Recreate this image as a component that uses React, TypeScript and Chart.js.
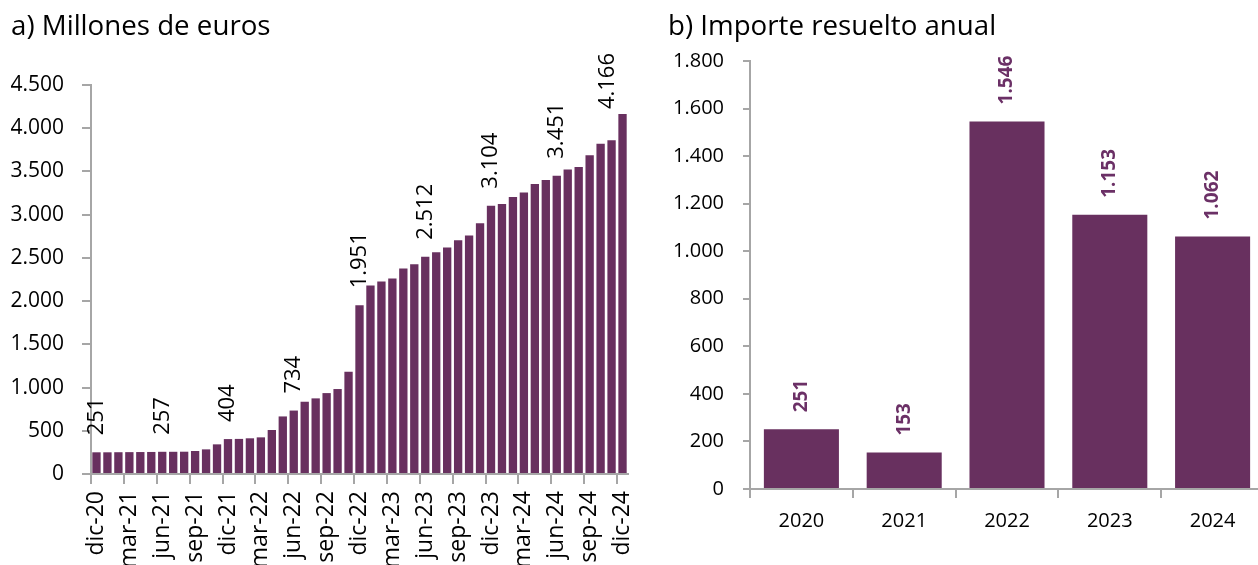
import React, { useEffect, useRef } from 'react';
import { Chart, registerables } from 'chart.js';

Chart.register(...registerables);

// ---- Data ----
const monthLabels = [
  'dic-20', 'ene-21', 'feb-21', 'mar-21', 'abr-21', 'may-21', 'jun-21', 'jul-21', 'ago-21', 'sep-21', 'oct-21', 'nov-21',
  'dic-21', 'ene-22', 'feb-22', 'mar-22', 'abr-22', 'may-22', 'jun-22', 'jul-22', 'ago-22', 'sep-22', 'oct-22', 'nov-22',
  'dic-22', 'ene-23', 'feb-23', 'mar-23', 'abr-23', 'may-23', 'jun-23', 'jul-23', 'ago-23', 'sep-23', 'oct-23', 'nov-23',
  'dic-23', 'ene-24', 'feb-24', 'mar-24', 'abr-24', 'may-24', 'jun-24', 'jul-24', 'ago-24', 'sep-24', 'oct-24', 'nov-24',
  'dic-24',
];
const monthValues = [
  251, 251, 252, 253, 254, 255, 257, 257, 258, 266, 285, 343,
  404, 406, 413, 424, 509, 666, 734, 836, 875, 936, 983, 1183,
  1951, 2181, 2227, 2262, 2377, 2427, 2512, 2566, 2620, 2705, 2759, 2901,
  3104, 3125, 3206, 3256, 3356, 3402, 3451, 3522, 3552, 3687, 3822, 3861,
  4166,
];
// months whose value is written above the bar
const monthLabelIdx = [0, 6, 12, 18, 24, 30, 36, 42, 48];

const yearLabels = ['2020', '2021', '2022', '2023', '2024'];
const yearValues = [251, 153, 1546, 1153, 1062];

const leftTitle = 'a) Millones de euros';
const rightTitle = 'b) Importe resuelto anual';

// ---- Style ----
const BAR = '#68305F';
const LABEL_PURPLE = '#6B3066';
const AXIS = '#A6A6A6';
const FONT = "'Open Sans', 'Noto Sans', sans-serif";

function fmt(n: number): string {
  return String(Math.round(n)).replace(/\B(?=(\d{3})+(?!\d))/g, '.');
}

// rotated value labels above bars, kept inside the plot area
const rotatedLabels = {
  id: 'rotLabels',
  afterDatasetsDraw(chart: any, _args: any, opts: any) {
    const { ctx, chartArea } = chart;
    const meta = chart.getDatasetMeta(0);
    const values = chart.data.datasets[0].data as number[];
    ctx.save();
    ctx.font = opts.font;
    ctx.fillStyle = opts.color;
    ctx.textAlign = 'left';
    ctx.textBaseline = 'middle';
    for (const i of opts.indices as number[]) {
      const el = meta.data[i];
      if (!el) continue;
      const text = fmt(values[i]);
      const w = ctx.measureText(text).width;
      let bottom = el.y - opts.gap;
      if (bottom - w < opts.minTop) bottom = opts.minTop + w;
      const x = Math.min(el.x, chartArea.right - opts.edge);
      ctx.save();
      ctx.translate(x, bottom);
      ctx.rotate(-Math.PI / 2);
      ctx.fillText(text, 0, 0);
      ctx.restore();
    }
    ctx.restore();
  },
};

function leftConfig(): any {
  return {
    type: 'bar',
    data: {
      labels: monthLabels,
      datasets: [
        {
          data: monthValues,
          backgroundColor: BAR,
          borderWidth: 0,
          barPercentage: 0.76,
          categoryPercentage: 1,
        },
      ],
    },
    options: {
      animation: false,
      responsive: false,
      layout: { padding: { left: 11, right: 12, top: 0, bottom: 0 } },
      plugins: {
        legend: { display: false },
        tooltip: { enabled: false },
        title: {
          display: true,
          text: leftTitle,
          align: 'start',
          color: '#000',
          font: { family: FONT, size: 27.7, weight: 'normal' },
          padding: { top: 10, bottom: 41.8 },
        },
        rotLabels: { indices: monthLabelIdx, font: `22px ${FONT}`, color: '#000', gap: 17, minTop: 53, edge: 20 },
      },
      scales: {
        x: {
          grid: {
            offset: true,
            drawOnChartArea: false,
            drawTicks: true,
            tickLength: 10,
            lineWidth: 2,
            color: (c: any) => (c.index % 3 === 0 ? AXIS : 'rgba(0,0,0,0)'),
          },
          border: { color: AXIS, width: 2 },
          ticks: {
            autoSkip: false,
            minRotation: 90,
            maxRotation: 90,
            padding: 7,
            color: '#000',
            font: { family: FONT, size: 23 },
            callback: (_v: any, i: number) => (i % 3 === 0 ? monthLabels[i] : ''),
          },
          afterFit: (s: any) => {
            s.height = 91;
            s.paddingLeft = 0;
            s.paddingRight = 0;
          },
        },
        y: {
          min: 0,
          max: 4500,
          ticks: {
            stepSize: 500,
            padding: 18,
            color: '#000',
            font: { family: FONT, size: 21 },
            callback: (v: any) => fmt(Number(v)),
          },
          grid: { drawOnChartArea: false, tickLength: 9, color: AXIS, lineWidth: 2 },
          border: { color: AXIS, width: 2 },
          afterFit: (s: any) => {
            s.width = 80;
          },
        },
      },
    },
    plugins: [rotatedLabels],
  };
}

function rightConfig(): any {
  return {
    type: 'bar',
    data: {
      labels: yearLabels,
      datasets: [
        {
          data: yearValues,
          backgroundColor: BAR,
          borderWidth: 0,
          barPercentage: 0.73,
          categoryPercentage: 1,
        },
      ],
    },
    options: {
      animation: false,
      responsive: false,
      layout: { padding: { left: 28, right: 0, top: 0, bottom: 0 } },
      plugins: {
        legend: { display: false },
        tooltip: { enabled: false },
        title: {
          display: true,
          text: rightTitle,
          align: 'start',
          color: '#000',
          font: { family: FONT, size: 27.7, weight: 'normal' },
          padding: { top: 10, bottom: 17.8 },
        },
        rotLabels: { indices: [0, 1, 2, 3, 4], font: `bold 19px ${FONT}`, color: LABEL_PURPLE, gap: 17, minTop: 0, edge: 0 },
      },
      scales: {
        x: {
          grid: { offset: true, drawOnChartArea: false, drawTicks: true, tickLength: 9, lineWidth: 2, color: AXIS },
          border: { color: AXIS, width: 2 },
          ticks: { padding: 11, color: '#000', font: { family: FONT, size: 20 }, maxRotation: 0 },
          afterFit: (s: any) => {
            s.height = 76;
          },
        },
        y: {
          min: 0,
          max: 1800,
          ticks: {
            stepSize: 200,
            padding: 19,
            color: '#000',
            font: { family: FONT, size: 20 },
            callback: (v: any) => fmt(Number(v)),
          },
          grid: { drawOnChartArea: false, tickLength: 7, color: AXIS, lineWidth: 2 },
          border: { color: AXIS, width: 2 },
          afterFit: (s: any) => {
            s.width = 82;
          },
        },
      },
    },
    plugins: [rotatedLabels],
  };
}

export default function App() {
  const leftRef = useRef<HTMLCanvasElement | null>(null);
  const rightRef = useRef<HTMLCanvasElement | null>(null);

  useEffect(() => {
    const a = new Chart(leftRef.current as HTMLCanvasElement, leftConfig());
    const b = new Chart(rightRef.current as HTMLCanvasElement, rightConfig());
    return () => {
      a.destroy();
      b.destroy();
    };
  }, []);

  return (
    <div
      style={{
        position: 'absolute',
        left: 0,
        top: 0,
        width: 1258,
        height: 565,
        overflow: 'hidden',
        background: '#fff',
      }}
    >
      <canvas ref={leftRef} width={640} height={565} style={{ position: 'absolute', left: 0, top: 0 }} />
      <canvas ref={rightRef} width={624} height={565} style={{ position: 'absolute', left: 640, top: 0 }} />
    </div>
  );
}
